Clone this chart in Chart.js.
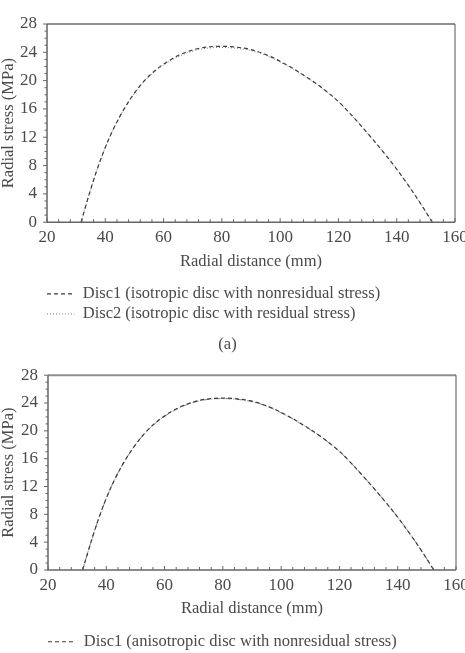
<!DOCTYPE html>
<html>
<head>
<meta charset="utf-8">
<script src="https://cdn.jsdelivr.net/npm/chart.js@4"></script>
<style>
  html, body { margin: 0; padding: 0; background: #fff; }
  body { width: 465px; height: 653px; overflow: hidden; position: relative; }
  .box { position: absolute; left: 0; width: 465px; }
  #boxA { top: 0; height: 355px; }
  #boxB { top: 355px; height: 305px; }
</style>
</head>
<body>
<div class="box" id="boxA"><canvas id="chartA"></canvas></div>
<div class="box" id="boxB"><canvas id="chartB"></canvas></div>
<script>
// radial distance (mm) and radial stress (MPa)
const radiusA = [31.7, 33, 35, 37, 39, 41, 43, 45, 47, 49, 51, 53, 55, 57, 59, 61, 63, 65, 67, 69, 71, 73, 75, 77, 79, 80.5,
    83, 86, 89, 92, 95, 98, 101, 104, 107, 110, 113, 116, 120, 124, 128, 132, 136, 140, 144, 148, 152.2];
const disc1A = [0, 1.89, 4.65, 7.21, 9.51, 11.55, 13.35, 14.95, 16.37, 17.65, 18.79, 19.79, 20.65, 21.4, 22.05, 22.61, 23.1, 23.55, 23.9, 24.2, 24.45, 24.63, 24.75, 24.82, 24.85, 24.85,
    24.8, 24.68, 24.48, 24.15, 23.7, 23.15, 22.5, 21.82, 21.05, 20.25, 19.4, 18.45, 17.05, 15.35, 13.5, 11.6, 9.6, 7.5, 5.2, 2.75, 0];
const disc2A = [0, 1.89, 4.65, 7.21, 9.51, 11.55, 13.35, 14.95, 16.37, 17.62, 18.74, 19.72, 20.56, 21.29, 21.92, 22.47, 22.95, 23.39, 23.73, 24.03, 24.28, 24.46, 24.58, 24.65, 24.68, 24.68,
    24.64, 24.53, 24.34, 24.02, 23.58, 23.04, 22.4, 21.73, 20.97, 20.18, 19.34, 18.41, 17.02, 15.33, 13.5, 11.6, 9.6, 7.5, 5.2, 2.75, 0];

const radiusB = [31.9, 33.2, 35.2, 37.2, 39.2, 41.2, 43.2, 45.2, 47.2, 49.2, 51.2, 53.2, 55.2, 57.2, 59.2, 61.2, 63.2, 65.2, 67.2, 69.2, 71.2, 73.2, 75.2, 77.2, 79.2, 80.7,
    83.2, 86.2, 89.2, 92.2, 95.2, 98.2, 101.2, 104.2, 107.2, 110.2, 113.2, 116.2, 120.2, 124.2, 128.2, 132.2, 136.2, 140.2, 144.2, 148.2, 152.4];
const disc1B = [0, 1.88, 4.62, 7.17, 9.46, 11.49, 13.28, 14.87, 16.28, 17.55, 18.68, 19.67, 20.53, 21.27, 21.92, 22.48, 22.97, 23.41, 23.76, 24.06, 24.31, 24.49, 24.61, 24.68, 24.71, 24.71,
    24.66, 24.54, 24.34, 24.02, 23.57, 23.03, 22.38, 21.71, 20.94, 20.15, 19.31, 18.37, 16.98, 15.29, 13.45, 11.56, 9.57, 7.48, 5.19, 2.75, 0];
const disc2B = [0, 1.88, 4.62, 7.17, 9.46, 11.49, 13.28, 14.87, 16.28, 17.53, 18.65, 19.63, 20.48, 21.21, 21.85, 22.41, 22.9, 23.34, 23.69, 23.99, 24.24, 24.42, 24.54, 24.61, 24.64, 24.64,
    24.59, 24.47, 24.28, 23.96, 23.52, 22.98, 22.34, 21.67, 20.91, 20.12, 19.29, 18.35, 16.97, 15.28, 13.45, 11.56, 9.57, 7.48, 5.19, 2.75, 0];

const xTicks = [20, 40, 60, 80, 100, 120, 140, 160];
const yTicks = [0, 4, 8, 12, 16, 20, 24, 28];

const serif = "'Liberation Serif', 'DejaVu Serif', serif";
const textColor = '#4a4a4a';

function points(xs, ys) {
    return xs.map((x, i) => ({ x: x, y: ys[i] }));
}

// legend samples keep the dash of their line
function dashedLabels(chart) {
    const items = Chart.defaults.plugins.legend.labels.generateLabels(chart);
    items.forEach(item => {
        const ds = chart.data.datasets[item.datasetIndex];
        item.lineDash = ds.borderDash;
        item.strokeStyle = ds.borderColor;
        item.lineWidth = ds.borderWidth;
    });
    return items;
}

// frame round the plot plus the small minor ticks
const framePlugin = {
    id: 'frame',
    afterLayout(chart) {
        // legend starts under the plot, not at the canvas edge
        chart.legend.left += chart.chartArea.left - 3.5;
    },
    afterDraw(chart) {
        const ctx = chart.ctx;
        const a = chart.chartArea;
        const xs = chart.scales.x;
        const ys = chart.scales.y;
        ctx.save();
        ctx.strokeStyle = '#8f8f8f';
        ctx.lineWidth = 2;
        ctx.beginPath();
        ctx.moveTo(a.left, a.top);
        ctx.lineTo(a.right, a.top);
        ctx.stroke();
        ctx.strokeStyle = '#555';
        ctx.lineWidth = 1;
        ctx.beginPath();
        ctx.moveTo(a.right, a.top);
        ctx.lineTo(a.right, a.bottom);
        ctx.stroke();
        ctx.strokeStyle = '#666';
        ctx.lineWidth = 1.5;
        ctx.beginPath();
        ctx.moveTo(a.left, a.top);
        ctx.lineTo(a.left, a.bottom);
        ctx.lineTo(a.right, a.bottom);
        ctx.stroke();
        ctx.lineWidth = 1;
        ctx.beginPath();
        for (let v = xs.min; v <= xs.max; v += 4) {
            const px = xs.getPixelForValue(v);
            ctx.moveTo(px, a.bottom);
            ctx.lineTo(px, a.bottom - (v % 20 === 0 ? 4 : 3));
        }
        for (let v = ys.min; v <= ys.max; v += 1) {
            const py = ys.getPixelForValue(v);
            ctx.moveTo(a.left, py);
            ctx.lineTo(a.left - (v % 4 === 0 ? 4 : 2.5), py);
        }
        ctx.stroke();
        ctx.restore();
    }
};

function makeChart(id, xs, d1, d2, labels, caption, pad) {
    const ctx = document.getElementById(id).getContext('2d');
    return new Chart(ctx, {
        type: 'scatter',
        data: {
            datasets: [{
                label: labels[0],
                data: points(xs, d1),
                showLine: true,
                borderColor: '#3c3c3c',
                backgroundColor: '#fff',
                borderWidth: 1.2,
                borderDash: [4, 3],
                pointRadius: 0,
                cubicInterpolationMode: 'monotone'
            }, {
                label: labels[1],
                data: points(xs, d2),
                showLine: true,
                borderColor: '#7a7a7a',
                backgroundColor: '#fff',
                borderWidth: 1,
                borderDash: labels[1] ? [1, 2] : [6, 2, 1, 2],
                pointRadius: 0,
                cubicInterpolationMode: 'monotone'
            }]
        },
        options: {
            responsive: true,
            maintainAspectRatio: false,
            animation: false,
            layout: {
                padding: { top: pad.top, left: 0, right: pad.right, bottom: 0 }
            },
            plugins: {
                tooltip: { enabled: false },
                legend: {
                    display: true,
                    position: 'bottom',
                    align: 'start',
                    labels: {
                        filter: item => !!item.text,
                        generateLabels: dashedLabels,
                        color: textColor,
                        font: { family: serif, size: 16.5 },
                        usePointStyle: true,
                        pointStyle: 'line',
                        pointStyleWidth: 27.5,
                        boxWidth: 27.5,
                        padding: 3.5
                    }
                },
                title: {
                    display: !!caption,
                    text: caption,
                    position: 'bottom',
                    color: textColor,
                    font: { family: serif, size: 16.5, weight: 'normal' },
                    padding: { top: 3, bottom: 0 }
                }
            },
            scales: {
                x: {
                    type: 'linear',
                    min: 20,
                    max: 160,
                    afterBuildTicks: s => { s.ticks = xTicks.map(v => ({ value: v })); },
                    afterFit: s => { s.height = 60; s.paddingLeft = 0; s.paddingRight = 0; },
                    grid: { display: false, drawTicks: false },
                    border: { display: false },
                    ticks: {
                        color: textColor,
                        font: { family: serif, size: 17 },
                        padding: 5,
                        maxRotation: 0
                    },
                    title: {
                        display: true,
                        text: 'Radial distance (mm)',
                        color: textColor,
                        font: { family: serif, size: 16.5 },
                        padding: { top: 0, bottom: 11 }
                    }
                },
                y: {
                    type: 'linear',
                    min: 0,
                    max: 28,
                    afterBuildTicks: s => { s.ticks = yTicks.map(v => ({ value: v })); },
                    afterFit: s => { s.width = pad.left; },
                    grid: { display: false, drawTicks: false },
                    border: { display: false },
                    ticks: {
                        color: textColor,
                        font: { family: serif, size: 17 },
                        padding: 10
                    },
                    title: {
                        display: true,
                        text: 'Radial stress (MPa)',
                        color: textColor,
                        font: { family: serif, size: 16.5, lineHeight: 1 },
                        padding: { top: 0, bottom: 0 }
                    }
                }
            }
        },
        plugins: [framePlugin]
    });
}

makeChart('chartA', radiusA, disc1A, disc2A,
    ['Disc1 (isotropic disc with nonresidual stress)', 'Disc2 (isotropic disc with residual stress)'],
    '(a)', { top: 24, right: 10, left: 47 });
makeChart('chartB', radiusB, disc1B, disc2B,
    ['Disc1 (anisotropic disc with nonresidual stress)', ''],
    '', { top: 17.3, right: 9, left: 48 });
</script>
</body>
</html>
